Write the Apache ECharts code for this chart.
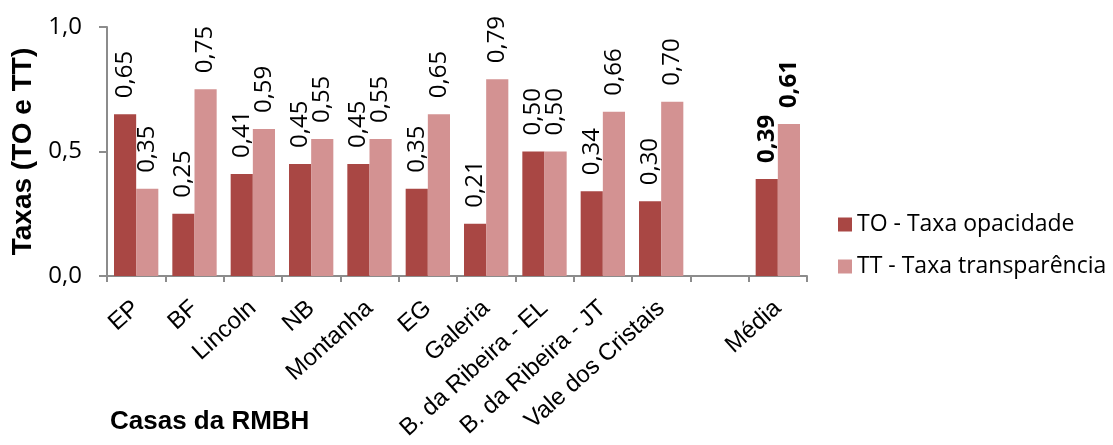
<!DOCTYPE html>
<html>
<head>
<meta charset="utf-8">
<script src="https://cdn.jsdelivr.net/npm/echarts@6/dist/echarts.min.js"></script>
<style>html,body{margin:0;padding:0;background:#fff}#c{width:1113px;height:445px}</style>
</head>
<body>
<div id="c"></div>
<script>
const categories = ['EP','BF','Lincoln','NB','Montanha','EG','Galeria','B. da Ribeira - EL','B. da Ribeira - JT','Vale dos Cristais','','Média'];
const toValues = [0.65,0.25,0.41,0.45,0.45,0.35,0.21,0.50,0.34,0.30,null,0.39];
const ttValues = [0.35,0.75,0.59,0.55,0.55,0.65,0.79,0.50,0.66,0.70,null,0.61];
const yTicks = [0, 0.5, 1.0];
const seriesNames = ['TO - Taxa opacidade','TT - Taxa transparência'];
const yTitle = 'Taxas (TO e TT)';
const xTitle = 'Casas da RMBH';

const fmt = v => v.toFixed(2).replace('.', ',');
const boldIdx = categories.indexOf('Média');
const mk = arr => arr.map((v, i) => i === boldIdx ? {value: v, label: {fontWeight: 'bold'}} : v);

const labelCfg = {
  show: true, position: 'top', rotate: 90, align: 'left', verticalAlign: 'middle',
  distance: 16, fontFamily: 'Open Sans', fontSize: 24, color: '#000',
  formatter: p => p.value == null ? '' : fmt(p.value)
};

const chart = echarts.init(document.getElementById('c'));
chart.setOption({
  animation: false,
  title: {text: xTitle, left: 110, top: 409, padding: 0, textStyle: {fontFamily: 'Liberation Sans', fontSize: 26, fontWeight: 'bold', color: '#000'}},
  grid: {left: 107, right: 306, top: 27, bottom: 169, containLabel: false, outerBoundsMode: 'none'},
  legend: {
    orient: 'vertical', left: 833, top: 208, itemWidth: 14, itemHeight: 14, itemGap: 19,
    icon: 'rect',
    textStyle: {fontFamily: 'Open Sans', fontSize: 23, color: '#000'},
    data: seriesNames
  },
  xAxis: {
    type: 'category', data: categories,
    axisLine: {lineStyle: {color: '#8c8c8c', width: 2}},
    axisTick: {show: true, alignWithLabel: false, length: 6, lineStyle: {color: '#8c8c8c', width: 2}, interval: 0},
    axisLabel: {interval: 0, rotate: 42, margin: 29, fontFamily: 'Liberation Sans', fontSize: 24, color: '#000'}
  },
  yAxis: {
    type: 'value', min: 0, max: 1, interval: 0.5,
    name: yTitle, nameLocation: 'middle', nameRotate: 90, nameGap: 63,
    nameTextStyle: {fontFamily: 'Liberation Sans', fontSize: 28, fontWeight: 'bold', color: '#000'},
    axisLine: {show: true, lineStyle: {color: '#8c8c8c', width: 2}},
    axisTick: {show: true, length: 8, lineStyle: {color: '#8c8c8c', width: 2}},
    splitLine: {show: false},
    axisLabel: {margin: 25, fontFamily: 'Open Sans', fontSize: 24, color: '#000',
      formatter: v => yTicks.includes(v) ? v.toFixed(1).replace('.', ',') : ''}
  },
  series: [
    {name: seriesNames[0], type: 'bar', data: mk(toValues), barGap: '0%', barCategoryGap: '24%',
      itemStyle: {color: '#A94744'}, label: labelCfg},
    {name: seriesNames[1], type: 'bar', data: mk(ttValues), barGap: '0%', barCategoryGap: '24%',
      itemStyle: {color: '#D39292'}, label: labelCfg}
  ]
});
</script>
</body>
</html>
